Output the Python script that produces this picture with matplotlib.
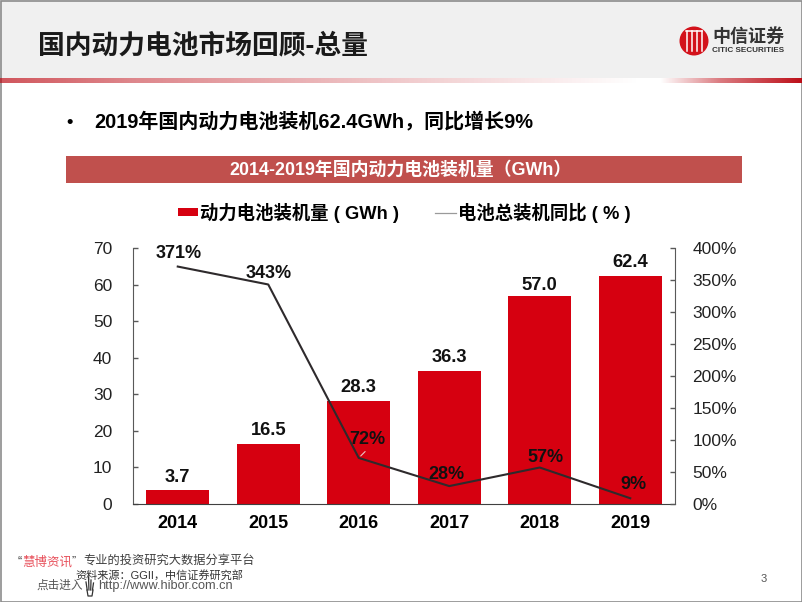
#!/usr/bin/env python3
import numpy as np
import matplotlib
matplotlib.use('Agg')
import matplotlib.pyplot as plt
from matplotlib.patches import Rectangle, Circle
from matplotlib.ticker import PercentFormatter

plt.rcParams['font.family'] = ['Liberation Sans', 'Noto Sans CJK SC', 'DejaVu Sans']

years = ['2014', '2015', '2016', '2017', '2018', '2019']
installed = [3.7, 16.5, 28.3, 36.3, 57.0, 62.4]
yoy = [371, 343, 72, 28, 57, 9]
bar_labels = ['3.7', '16.5', '28.3', '36.3', '57.0', '62.4']
yoy_labels = ['371%', '343%', '72%', '28%', '57%', '9%']
left_ticks = [0, 10, 20, 30, 40, 50, 60, 70]
right_ticks = [0, 50, 100, 150, 200, 250, 300, 350, 400]

W, H = 802, 602
RED = '#d60010'
AXIS = '#595959'
fig = plt.figure(figsize=(W / 100, H / 100), dpi=100)

# slide background, in pixel coordinates
bg = fig.add_axes([0, 0, 1, 1])
bg.set_xlim(0, W)
bg.set_ylim(H, 0)
bg.axis('off')
bg.add_patch(Rectangle((0, 0), W, 78, color='#f0f0f0', lw=0))
bg.add_patch(Rectangle((0.5, 0.5), W - 1, H - 1, fill=False, ec='#8c8c8c', lw=1.2))

# fading rule under the header
fade = np.zeros((1, 802, 4))
stops_x = [0, 130, 400, 640, 660, 720, 802]
stops_a = [0.7, 0.5, 0.22, 0.0, 0.0, 0.55, 1.0]
fade[0, :, 0] = 0.74
fade[0, :, 1] = 0.05
fade[0, :, 2] = 0.09
fade[0, :, 3] = np.interp(np.arange(802), stops_x, stops_a)
bg.imshow(fade, extent=(0, W, 83, 78), aspect='auto', zorder=2)
bg.set_xlim(0, W)
bg.set_ylim(H, 0)

bg.text(38, 46, '国内动力电池市场回顾-总量', fontsize=19.3, fontweight='bold',
        color='#1a1a1a', va='center')
bg.text(70, 122, '•', fontsize=13, fontweight='bold', color='black', ha='center', va='center')
bg.text(94, 121, '2019年国内动力电池装机62.4GWh，同比增长9%', fontsize=14.4,
        fontweight='bold', color='black', va='center')

bg.add_patch(Rectangle((66, 156), 676, 27, color='#c0504d', lw=0))
bg.text(400, 170, '2014-2019年国内动力电池装机量（GWh）', fontsize=12.9,
        fontweight='bold', color='white', ha='center', va='center')

# legend
bg.add_patch(Rectangle((178, 208), 20, 8, color=RED, lw=0))
bg.text(200, 213, '动力电池装机量 ( GWh )', fontsize=13.2, fontweight='bold', va='center')
bg.plot([435, 456], [213, 213], color='#9a9a9a', lw=0.9)
bg.text(458, 213, '电池总装机同比 ( % )', fontsize=13.2, fontweight='bold', va='center')

# logo
bg.add_patch(Circle((694, 41), 14.5, color='#d3121b', lw=0))
for dx in [-7.5, -2.5, 2.5, 7.5]:
    bg.plot([694 + dx, 694 + dx], [31, 51], color='white', lw=1.1)
bg.plot([686, 702], [31, 31], color='white', lw=1.1)
bg.text(712, 36.5, '中信证券', fontsize=13, fontweight='bold', color='#333333',
        family=['Noto Sans CJK SC', 'DejaVu Sans'], va='center')
bg.text(712, 51, 'CITIC SECURITIES', fontsize=5.9, fontweight='bold', color='#333333', va='center')

# footer
bg.text(17, 562, '“', fontsize=9, color='#333333', va='center')
bg.text(22, 562, '慧博资讯', fontsize=9, color='#e8505b', va='center')
bg.text(72, 562, '”', fontsize=9, color='#333333', va='center')
bg.text(83, 562, '专业的投资研究大数据分享平台', fontsize=8.8, color='#404040', va='center')
bg.text(75, 575, '资料来源：GGII，中信证券研究部', fontsize=8, color='#333333', va='center')
bg.text(37, 586, '点击进入', fontsize=8.4, color='#555555', va='center')
bg.text(98, 586, 'http://www.hibor.com.cn', fontsize=9.2, color='#555555', va='center')
# hand cursor, no installed font has this glyph
for hx, top in [(86, 582), (88.5, 577), (91, 580), (93.5, 583)]:
    bg.plot([hx, hx + (90 - hx) * 0.3], [top, 590], color='#333333', lw=0.9)
bg.plot([87, 88, 92, 93], [590, 596, 596, 590], color='#333333', lw=0.9)
bg.text(764, 579, '3', fontsize=8, color='#555555', ha='center', va='center')

# chart
ax = fig.add_axes([132.5 / W, 1 - 504 / H, 543 / W, 256 / H], zorder=3)
ax.patch.set_alpha(0)
x = np.arange(len(years))
ax.bar(x, installed, width=0.7, color=RED, zorder=2)
ax.set_xlim(-0.5, 5.5)
ax.set_ylim(0, 70)
ax.set_xticks(x, years)
ax.set_yticks(left_ticks)
ax.tick_params(axis='x', length=0, labelsize=13, pad=8)
ax.tick_params(axis='y', direction='in', length=3.6, width=1, color=AXIS,
               labelsize=12.5, labelcolor='#222222', pad=14.5)
for lab in ax.get_xticklabels():
    lab.set_fontweight('bold')
ax.spines['top'].set_visible(False)
ax.spines['right'].set_visible(False)
ax.spines['left'].set_color(AXIS)
ax.spines['bottom'].set_color('#404040')
# label offsets, one per bar
bar_offsets = [3.5, 3.5, 3, 3.5, 1, 3.5]
for xi, v, s, dy in zip(x, installed, bar_labels, bar_offsets):
    ax.annotate(s, (xi, v), xytext=(0, dy), textcoords='offset points', ha='center',
                va='bottom', fontsize=13.2, fontweight='bold', color='#111111', zorder=6)

ax2 = ax.twinx()
ax2.plot(x, yoy, color='#2e2a2c', lw=1.5, zorder=4)
ax2.set_ylim(0, 400)
ax2.set_yticks(right_ticks)
ax2.yaxis.set_major_formatter(PercentFormatter(decimals=0))
ax2.tick_params(axis='y', direction='in', length=3.6, width=1, color=AXIS,
                labelsize=12.5, labelcolor='#222222', pad=12)
for side in ['top', 'left', 'bottom']:
    ax2.spines[side].set_visible(False)
ax2.spines['right'].set_color(AXIS)
# label offsets, one per point
offsets = [(1, 3), (0, 2), (6, 7), (-2, 2), (4, 1), (2, 4)]
for xi, v, s, off in zip(x, yoy, yoy_labels, offsets):
    ax2.annotate(s, (xi, v), xytext=off, textcoords='offset points', ha='center',
                 va='bottom', fontsize=13, fontweight='bold', color='#111111', zorder=6)
# pale leader line under the 72% label
ax2.annotate('', (x[2], yoy[2]), xytext=(6, 6), textcoords='offset points',
             arrowprops=dict(arrowstyle='-', color='#e8c8c8', lw=0.8), zorder=5)

fig.savefig('out.png', dpi=100)
